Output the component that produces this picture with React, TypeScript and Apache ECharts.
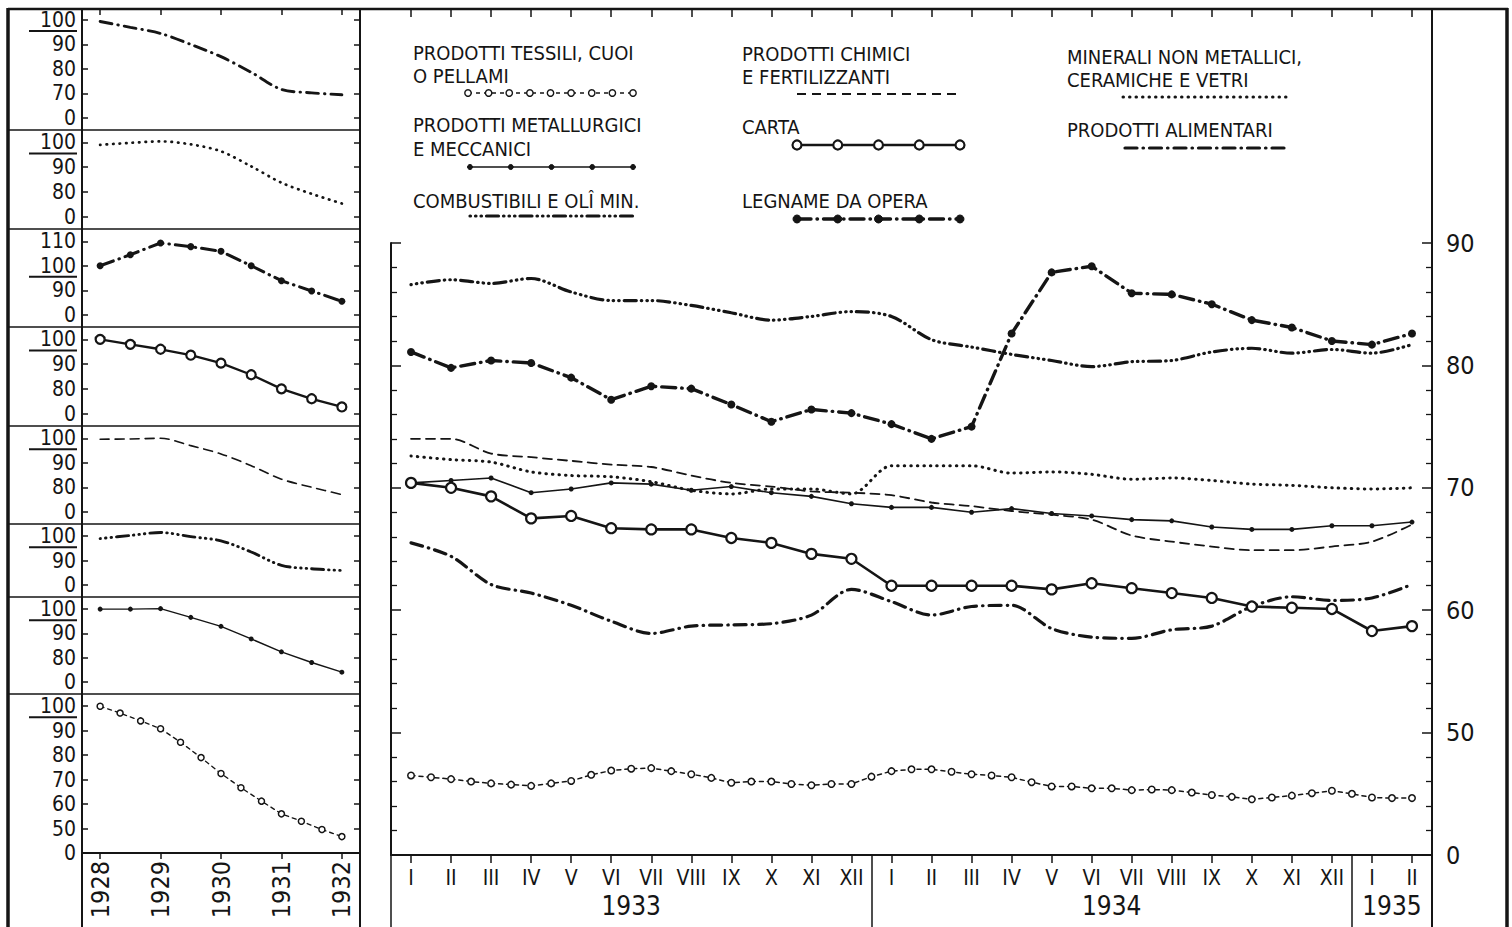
import React, { useEffect, useRef } from "react";
import * as echarts from "echarts";

// ---------------- DATA ----------------
const MONTHS = ["I", "II", "III", "IV", "V", "VI", "VII", "VIII", "IX", "X", "XI", "XII", "I", "II", "III", "IV", "V", "VI", "VII", "VIII", "IX", "X", "XI", "XII", "I", "II"];
const YEAR_LABELS = ["1933", "1934", "1935"];
const YEAR_LABEL_POS = [5.5, 17.5, 24.5];
const YEAR_SEPARATORS = [-0.5, 11.5, 23.5];
const MAIN_Y_LABELS = [40, 50, 60, 70, 80, 90];

// tessili: readings every half month (I 1933 ... II 1935)
const TESSILI_HALF = [
  46.5, 46.35, 46.2, 46.0, 45.85, 45.75, 45.65, 45.85, 46.05, 46.55, 46.9, 47.05, 47.1, 46.85, 46.6, 46.3, 45.9,
  46.0, 46.0, 45.8, 45.7, 45.8, 45.8, 46.4, 46.85, 47.0, 47.0, 46.8, 46.6, 46.5, 46.35, 45.95, 45.6, 45.6, 45.45,
  45.45, 45.3, 45.35, 45.3, 45.1, 44.9, 44.75, 44.55, 44.7, 44.85, 45.05, 45.25, 45.0, 44.7, 44.65, 44.65,
];
const METALLURGICI = [70.4, 70.6, 70.8, 69.6, 69.9, 70.4, 70.3, 69.8, 70.1, 69.6, 69.3, 68.7, 68.4, 68.4, 68.0, 68.3, 67.9, 67.7, 67.4, 67.3, 66.8, 66.6, 66.6, 66.9, 66.9, 67.2];
const COMBUSTIBILI = [86.6, 87.0, 86.7, 87.1, 86.0, 85.3, 85.3, 84.9, 84.3, 83.7, 84.0, 84.4, 84.0, 82.1, 81.5, 80.9, 80.4, 79.9, 80.3, 80.4, 81.1, 81.4, 81.0, 81.3, 81.0, 81.7];
const CHIMICI = [74.0, 74.0, 72.8, 72.5, 72.2, 71.9, 71.7, 71.0, 70.4, 70.1, 69.7, 69.6, 69.4, 68.8, 68.5, 68.1, 67.8, 67.4, 66.1, 65.6, 65.2, 64.9, 64.9, 65.2, 65.6, 67.0];
const CARTA = [70.4, 70.0, 69.3, 67.5, 67.7, 66.7, 66.6, 66.6, 65.9, 65.5, 64.6, 64.2, 62.0, 62.0, 62.0, 62.0, 61.7, 62.2, 61.8, 61.4, 61.0, 60.3, 60.2, 60.1, 58.3, 58.7];
const LEGNAME = [81.1, 79.8, 80.4, 80.2, 79.0, 77.2, 78.3, 78.1, 76.8, 75.4, 76.4, 76.1, 75.2, 74.0, 75.0, 82.6, 87.6, 88.1, 85.9, 85.8, 85.0, 83.7, 83.1, 82.0, 81.7, 82.6];
const MINERALI = [72.6, 72.3, 72.1, 71.3, 71.0, 70.9, 70.5, 69.8, 69.5, 69.9, 69.9, 69.5, 71.8, 71.8, 71.8, 71.2, 71.3, 71.1, 70.7, 70.8, 70.6, 70.3, 70.2, 70.0, 69.9, 70.0];
const ALIMENTARI = [65.5, 64.4, 62.1, 61.4, 60.4, 59.1, 58.1, 58.7, 58.8, 58.9, 59.6, 61.7, 60.7, 59.6, 60.3, 60.4, 58.5, 57.8, 57.7, 58.4, 58.7, 60.3, 61.1, 60.8, 61.0, 62.1];

// small panels 1928-1932
const PANEL_YEARS = [1928, 1929, 1930, 1931, 1932];
const SEMI_X = [1928, 1928.5, 1929, 1929.5, 1930, 1930.5, 1931, 1931.5, 1932];
const TESSILI_X = [1928, 1928.33, 1928.67, 1929, 1929.33, 1929.67, 1930, 1930.33, 1930.67, 1931, 1931.33, 1931.67, 1932];
const P_ALIMENTARI = [99.4, 97, 94.5, 90, 85, 78.6, 71.6, 70.2, 69.4];
const P_MINERALI = [99, 99.8, 100.4, 99.2, 96.4, 90.3, 83.7, 79.2, 75.3];
const P_LEGNAME = [100, 104.5, 109.3, 107.8, 105.9, 100, 93.9, 89.7, 85.5];
const P_CARTA = [100, 98, 96, 93.6, 90.4, 85.7, 80, 76, 72.7];
const P_CHIMICI = [99.6, 99.7, 100, 97, 93.6, 88.8, 83.3, 80, 77];
const P_COMBUSTIBILI = [99, 100.3, 101.5, 99.8, 98.1, 93.5, 88, 86.6, 85.9];
const P_METALLURGICI = [100, 100, 100.2, 96.6, 92.9, 87.7, 82.4, 78, 74];
const P_TESSILI = [100, 97.2, 94, 90.8, 85.3, 79, 72.5, 66.7, 61.2, 56, 53, 49.6, 46.7];
const PANEL_TICKS = [
  [60, 70, 80, 90, 100],
  [70, 80, 90, 100],
  [80, 90, 100, 110],
  [70, 80, 90, 100],
  [70, 80, 90, 100],
  [80, 90, 100],
  [70, 80, 90, 100],
  [40, 50, 60, 70, 80, 90, 100],
];

// ---------------- STYLE / LAYOUT ----------------
const INK = "#151515";
const FONT = '"Liberation Sans Narrow","DejaVu Sans Condensed","Liberation Sans","DejaVu Sans",sans-serif';

type Key = "tessili" | "metallurgici" | "combustibili" | "chimici" | "carta" | "legname" | "minerali" | "alimentari";

const DASH: Record<Key, any> = {
  tessili: [4, 4],
  metallurgici: "solid",
  combustibili: [0.5, 5, 0.5, 5, 0.5, 5, 12, 5],
  chimici: [9, 6],
  carta: "solid",
  legname: [14, 6, 0.5, 6],
  minerali: [0.5, 6],
  alimentari: [12, 6, 0.5, 6],
};
const WIDTH: Record<Key, number> = {
  tessili: 1.5, metallurgici: 1.6, combustibili: 3.2, chimici: 1.8, carta: 2.6, legname: 3.4, minerali: 3, alimentari: 3.2,
};

function seriesStyle(key: Key, small: boolean) {
  const base: any = {
    type: "line",
    lineStyle: { color: INK, width: WIDTH[key] * (small ? 0.9 : 1), type: DASH[key], cap: "round" },
    symbol: "none",
    smooth: 0,
    z: 3,
  };
  if (key === "combustibili" || key === "chimici" || key === "minerali" || key === "alimentari") base.smooth = 0.3;
  if (key === "tessili") {
    base.symbol = "circle";
    base.symbolSize = small ? 6 : 6.5;
    base.itemStyle = { color: "#fff", borderColor: INK, borderWidth: 1.5 };
  }
  if (key === "carta") {
    base.symbol = "circle";
    base.symbolSize = small ? 9 : 10;
    base.itemStyle = { color: "#fff", borderColor: INK, borderWidth: 2.2 };
  }
  if (key === "metallurgici") {
    base.symbol = "circle";
    base.symbolSize = 5;
    base.itemStyle = { color: INK };
  }
  if (key === "legname") {
    base.symbol = "circle";
    base.symbolSize = small ? 7 : 8;
    base.itemStyle = { color: INK };
  }
  return base;
}

const PANELS: { key: Key; top: number; height: number; min: number; max: number; xs: number[]; vals: number[] }[] = [
  { key: "alimentari", top: 9, height: 121, min: 55, max: 104.5, xs: SEMI_X, vals: P_ALIMENTARI },
  { key: "minerali", top: 130, height: 99, min: 65, max: 105, xs: SEMI_X, vals: P_MINERALI },
  { key: "legname", top: 229, height: 98, min: 75, max: 115, xs: SEMI_X, vals: P_LEGNAME },
  { key: "carta", top: 327, height: 99, min: 65, max: 105, xs: SEMI_X, vals: P_CARTA },
  { key: "chimici", top: 426, height: 98, min: 65, max: 105, xs: SEMI_X, vals: P_CHIMICI },
  { key: "combustibili", top: 524, height: 73, min: 75, max: 105, xs: SEMI_X, vals: P_COMBUSTIBILI },
  { key: "metallurgici", top: 597, height: 97, min: 65, max: 105, xs: SEMI_X, vals: P_METALLURGICI },
  { key: "tessili", top: 694, height: 159, min: 40, max: 105, xs: TESSILI_X, vals: P_TESSILI },
];

const MAIN: { key: Key; vals: number[] }[] = [
  { key: "metallurgici", vals: METALLURGICI },
  { key: "combustibili", vals: COMBUSTIBILI },
  { key: "chimici", vals: CHIMICI },
  { key: "carta", vals: CARTA },
  { key: "legname", vals: LEGNAME },
  { key: "minerali", vals: MINERALI },
  { key: "alimentari", vals: ALIMENTARI },
];

function buildOption() {
  const grid: any[] = [];
  const xAxis: any[] = [];
  const yAxis: any[] = [];
  const series: any[] = [];

  PANELS.forEach((p, i) => {
    grid.push({ left: 82, width: 278, top: p.top, height: p.height });
    const ticks = PANEL_TICKS[i];
    const isTop = i === 0;
    const isBottom = i === PANELS.length - 1;
    xAxis.push({
      gridIndex: i,
      type: "value",
      min: 1927.7,
      max: 1932.3,
      position: isTop ? "top" : "bottom",
      show: isTop || isBottom,
      axisLine: { show: isBottom, onZero: false, lineStyle: { color: INK, width: 2 } },
      axisTick: { show: true, inside: isTop, length: 6, customValues: PANEL_YEARS, lineStyle: { color: INK, width: 1.5 } },
      axisLabel: {
        show: isBottom,
        customValues: PANEL_YEARS,
        rotate: 90,
        margin: 8,
        color: INK,
        fontSize: 25,
        fontFamily: FONT,
        formatter: (v: number) => String(v),
      },
      splitLine: { show: false },
    });
    yAxis.push({
      gridIndex: i,
      type: "value",
      min: p.min,
      max: p.max,
      position: "left",
      axisLine: { show: true, onZero: false, lineStyle: { color: INK, width: 2 } },
      axisTick: { show: true, inside: true, length: 6, customValues: ticks, lineStyle: { color: INK, width: 1.5 } },
      axisLabel: {
        show: true,
        customValues: ticks,
        margin: 6,
        color: INK,
        fontSize: 21,
        fontFamily: FONT,
        formatter: (v: number) => (v === ticks[0] ? "0" : String(v)),
      },
      splitLine: { show: false },
    });
    yAxis.push({
      gridIndex: i,
      type: "value",
      min: p.min,
      max: p.max,
      position: "right",
      axisLine: { show: true, onZero: false, lineStyle: { color: INK, width: 2 } },
      axisTick: { show: true, inside: true, length: 6, customValues: ticks, lineStyle: { color: INK, width: 1.5 } },
      axisLabel: { show: false },
      splitLine: { show: false },
    });
    series.push({
      ...seriesStyle(p.key, true),
      name: "p-" + p.key,
      xAxisIndex: i,
      yAxisIndex: 2 * i,
      data: p.xs.map((x, j) => [x, p.vals[j]]),
    });
  });

  // main chart
  const g = PANELS.length;
  grid.push({ left: 391, right: 80, top: 243, bottom: 72 });
  const xMain = xAxis.length;
  xAxis.push({
    gridIndex: g,
    type: "category",
    data: MONTHS,
    boundaryGap: true,
    position: "bottom",
    axisLine: { show: true, onZero: false, lineStyle: { color: INK, width: 2 } },
    axisTick: { show: true, alignWithLabel: true, interval: 0, length: 8, lineStyle: { color: INK, width: 1.5 } },
    axisLabel: { interval: 0, margin: 12, color: INK, fontSize: 21, fontFamily: FONT },
  });
  xAxis.push({
    gridIndex: g,
    type: "category",
    data: MONTHS,
    boundaryGap: true,
    position: "top",
    offset: 233,
    axisLine: { show: false },
    axisTick: { show: true, inside: true, alignWithLabel: true, interval: 0, length: 7, lineStyle: { color: INK, width: 1.5 } },
    axisLabel: { show: false },
  });
  const xVal = xAxis.length;
  xAxis.push({
    gridIndex: g,
    type: "value",
    min: -0.5,
    max: 25.5,
    position: "bottom",
    axisLine: { show: false, onZero: false },
    axisTick: { show: true, customValues: YEAR_SEPARATORS, length: 72, lineStyle: { color: INK, width: 1.5 } },
    axisLabel: {
      show: true,
      customValues: YEAR_LABEL_POS,
      margin: 38,
      color: INK,
      fontSize: 26,
      fontFamily: FONT,
      formatter: (v: number) => {
        const k = YEAR_LABEL_POS.indexOf(v);
        return k >= 0 ? YEAR_LABELS[k] : "";
      },
    },
    splitLine: { show: false },
  });
  const yMain = yAxis.length;
  yAxis.push({
    gridIndex: g,
    type: "value",
    min: 40,
    max: 90,
    interval: 10,
    position: "left",
    axisLine: { show: true, onZero: false, lineStyle: { color: INK, width: 2 } },
    axisTick: { show: true, inside: true, length: 10, lineStyle: { color: INK, width: 1.5 } },
    minorTick: { show: true, splitNumber: 5, length: 6, lineStyle: { color: INK, width: 1.3 } },
    axisLabel: { show: false },
    splitLine: { show: false },
    minorSplitLine: { show: false },
  });
  yAxis.push({
    gridIndex: g,
    type: "value",
    min: 40,
    max: 90,
    interval: 10,
    position: "right",
    axisLine: { show: true, onZero: false, lineStyle: { color: INK, width: 2 } },
    axisTick: { show: true, inside: true, length: 10, lineStyle: { color: INK, width: 1.5 } },
    minorTick: { show: true, splitNumber: 5, length: 6, lineStyle: { color: INK, width: 1.3 } },
    axisLabel: {
      show: true,
      customValues: MAIN_Y_LABELS,
      margin: 14,
      color: INK,
      fontSize: 25,
      fontFamily: FONT,
      formatter: (v: number) => (v === MAIN_Y_LABELS[0] ? "0" : String(v)),
    },
    splitLine: { show: false },
    minorSplitLine: { show: false },
  });
  series.push({
    ...seriesStyle("tessili", false),
    name: "tessili",
    xAxisIndex: xVal,
    yAxisIndex: yMain,
    data: TESSILI_HALF.map((v, k) => [k / 2, v]),
  });
  MAIN.forEach((m) => {
    series.push({
      ...seriesStyle(m.key, false),
      name: m.key,
      xAxisIndex: xMain,
      yAxisIndex: yMain,
      data: m.vals,
    });
  });

  return {
    animation: false,
    backgroundColor: "#ffffff",
    grid,
    xAxis,
    yAxis,
    series,
  };
}

function line(x1: number, y1: number, x2: number, y2: number, w: number, dash?: number[], cap?: string) {
  return {
    type: "line",
    silent: true,
    shape: { x1, y1, x2, y2 },
    style: { stroke: INK, lineWidth: w, lineDash: dash, lineCap: cap || "butt" },
    z: 10,
  };
}
function text(x: number, y: number, t: string, size = 20) {
  return {
    type: "text",
    silent: true,
    x,
    y,
    style: { text: t, fill: INK, fontSize: size, fontFamily: FONT, align: "left", verticalAlign: "middle" },
    z: 10,
  };
}
function circles(x1: number, x2: number, y: number, n: number, r: number, filled: boolean, lw: number) {
  const out: any[] = [];
  for (let k = 0; k < n; k++) {
    const cx = x1 + ((x2 - x1) * k) / (n - 1);
    out.push({
      type: "circle",
      silent: true,
      shape: { cx, cy: y, r },
      style: { fill: filled ? INK : "#fff", stroke: INK, lineWidth: lw },
      z: 11,
    });
  }
  return out;
}

function staticGraphics() {
  const els: any[] = [];
  // frame
  els.push(line(8, 9, 1508, 9, 2.5));
  els.push(line(8, 8, 8, 927, 3.5));
  els.push(line(1507, 8, 1507, 927, 3.5));
  els.push(line(1432, 9, 1432, 927, 2));
  els.push(line(360, 9, 360, 927, 2));
  els.push(line(82, 9, 82, 927, 2));
  [130, 229, 327, 426, 524, 597, 694].forEach((y) => els.push(line(8, y, 360, y, 1.6)));

  // legend texts
  els.push(text(413, 53, "PRODOTTI TESSILI, CUOI"));
  els.push(text(413, 76, "O PELLAMI"));
  els.push(text(413, 125, "PRODOTTI METALLURGICI"));
  els.push(text(413, 149, "E MECCANICI"));
  els.push(text(413, 201, "COMBUSTIBILI E OLÎ MIN."));
  els.push(text(742, 54, "PRODOTTI CHIMICI"));
  els.push(text(742, 77, "E FERTILIZZANTI"));
  els.push(text(742, 127, "CARTA"));
  els.push(text(742, 201, "LEGNAME DA OPERA"));
  els.push(text(1067, 57, "MINERALI NON METALLICI,"));
  els.push(text(1067, 80, "CERAMICHE E VETRI"));
  els.push(text(1067, 130, "PRODOTTI ALIMENTARI"));

  // legend symbols
  els.push(line(468, 93, 633, 93, 1.4, DASH.tessili));
  els.push(...circles(468, 633, 93, 9, 3.2, false, 1.4));
  els.push(line(470, 167, 633, 167, 1.6));
  els.push(...circles(470, 633, 167, 5, 2.5, true, 1));
  els.push(line(470, 216, 633, 216, 3.2, DASH.combustibili, "round"));
  els.push(line(797, 94, 960, 94, 1.8, DASH.chimici));
  els.push(line(797, 145, 960, 145, 2.4));
  els.push(...circles(797, 960, 145, 5, 4.5, false, 2.2));
  els.push(line(797, 219, 960, 219, 3.4, DASH.legname, "round"));
  els.push(...circles(797, 960, 219, 5, 4, true, 1));
  els.push(line(1123, 97, 1288, 97, 3, DASH.minerali, "round"));
  els.push(line(1125, 148, 1288, 148, 3.2, DASH.alimentari, "round"));
  return els;
}

export default function App() {
  const ref = useRef<HTMLDivElement>(null);
  useEffect(() => {
    const el = ref.current;
    if (!el) return;
    const chart = echarts.init(el, null, { renderer: "svg" });
    chart.setOption(buildOption() as any);
    const underlines = PANELS.map((_, i) => {
      const y = chart.convertToPixel({ yAxisIndex: 2 * i } as any, 100) as unknown as number;
      return line(29, y + 11, 77, y + 11, 2);
    });
    chart.setOption({ graphic: { elements: [...staticGraphics(), ...underlines] } } as any);
    return () => chart.dispose();
  }, []);
  return (
    <div
      ref={ref}
      style={{ position: "absolute", left: 0, top: 0, width: 1512, height: 927, background: "#fff" }}
    />
  );
}
